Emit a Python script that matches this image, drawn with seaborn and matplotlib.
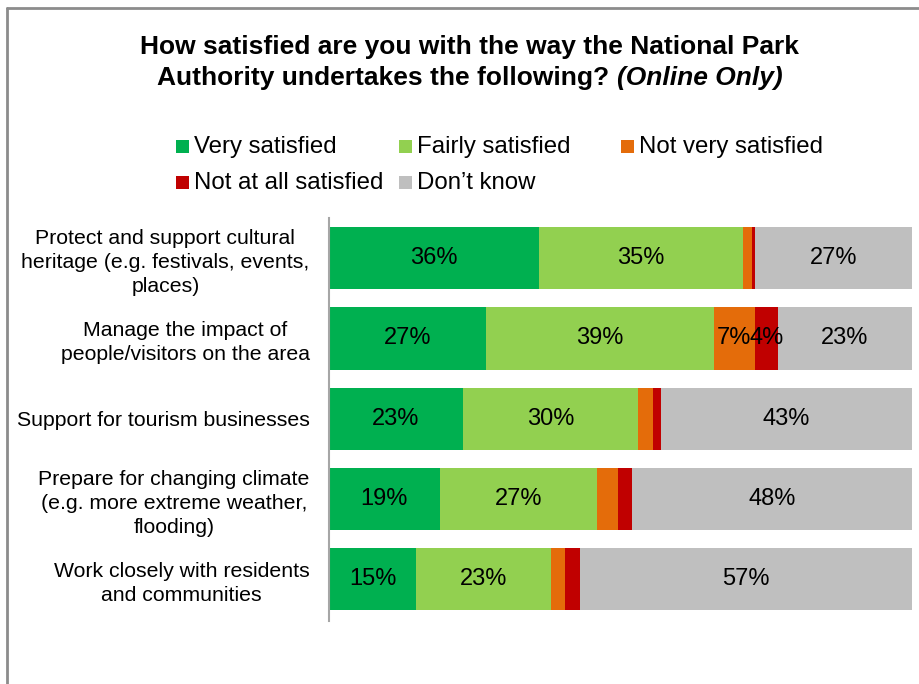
import matplotlib
matplotlib.use("Agg")
import matplotlib.pyplot as plt
from matplotlib.lines import Line2D
from matplotlib.patches import Rectangle
import pandas as pd
import seaborn as sns

# Survey statements (top to bottom) and response shares in percent
statements = [
    "Protect and support cultural\nheritage (e.g. festivals, events,\nplaces)",
    "Manage the impact of\npeople/visitors on the area",
    "Support for tourism businesses",
    "Prepare for changing climate\n(e.g. more extreme weather,\nflooding)",
    "Work closely with residents\nand communities",
]
responses = ["Very satisfied", "Fairly satisfied", "Not very satisfied",
             "Not at all satisfied", "Don\u2019t know"]
very_satisfied = [36, 27, 23, 19, 15]
fairly_satisfied = [35, 39, 30, 27, 23]
not_very_satisfied = [1.5, 7, 2.5, 3.5, 2.5]
not_at_all_satisfied = [0.5, 4, 1.5, 2.5, 2.5]
dont_know = [27, 23, 43, 48, 57]
colors = ["#00B050", "#92D050", "#E46C0A", "#C00000", "#BFBFBF"]

sns.set_theme(style="white")
plt.rcParams["font.family"] = ["Liberation Sans", "DejaVu Sans"]
plt.rcParams["text.color"] = "black"
plt.rcParams["ytick.color"] = "black"

df = pd.DataFrame(
    {r: v for r, v in zip(responses, [very_satisfied, fairly_satisfied,
                                        not_very_satisfied, not_at_all_satisfied,
                                        dont_know])},
    index=statements,
)
cum = df.cumsum(axis=1)

W, H = 920, 684
fig = plt.figure(figsize=(W / 100, H / 100), dpi=100)
ax = fig.add_axes([329 / W, 1 - 621 / H, (912 - 329) / W, (621 - 218) / H])

# Stacked bars: draw cumulative totals from the outermost segment inwards
for col, color in reversed(list(zip(responses, colors))):
    sns.barplot(x=cum[col].values, y=statements, color=color, orient="h",
                width=0.775, ax=ax, saturation=1, linewidth=0)

# Value labels for the readable segments
for i, st in enumerate(statements):
    for col in responses:
        v = df.loc[st, col]
        if v >= 4:
            centre = cum.loc[st, col] - v / 2
            ax.text(centre, i, f"{v:.0f}%", ha="center", va="center",
                    fontsize=17, color="black")

ax.set_xlim(0, 100)
ax.set_ylim(len(statements) - 0.5 + 0.02, -0.5)
ax.set_xticks([])
ax.set_xlabel("")
ax.set_ylabel("")
ax.set_yticks(range(len(statements)))
ax.set_yticklabels(statements, fontsize=15.3)
for lbl in ax.get_yticklabels():
    lbl.set_multialignment("center")
    lbl.set_linespacing(1.32)
ax.tick_params(axis="y", length=0, pad=14)
for side in ["top", "right", "bottom"]:
    ax.spines[side].set_visible(False)
ax.spines["left"].set_color("#A6A6A6")
ax.spines["left"].set_linewidth(1.5)

# Outer chart frame (left and top edges)
fig.add_artist(Line2D([7 / W, 7 / W], [0, 1 - 8 / H], color="#8C8C8C", lw=2,
                      transform=fig.transFigure))
fig.add_artist(Line2D([7 / W, 1], [1 - 8 / H, 1 - 8 / H], color="#8C8C8C", lw=2,
                      transform=fig.transFigure))

# Title: first line, then a bold part followed by a bold italic part
fig.text(470 / W, 1 - 47 / H, "How satisfied are you with the way the National Park",
         ha="center", va="center", fontsize=19, fontweight="bold")
renderer = fig.canvas.get_renderer()
part_a = fig.text(0, 1 - 78 / H, "Authority undertakes the following? ",
                  ha="left", va="center", fontsize=19, fontweight="bold")
part_b = fig.text(0, 1 - 78 / H, "(Online Only)", ha="left", va="center",
                  fontsize=19, fontweight="bold", style="italic")
wa = part_a.get_window_extent(renderer).width
wb = part_b.get_window_extent(renderer).width
x0 = 470 - (wa + wb) / 2
part_a.set_x(x0 / W)
part_b.set_x((x0 + wa) / W)

# Legend in fixed-width columns, three entries on the first row
col_x = [176, 399, 621]
baseline_y = [153, 189]
sq = 13
for k, (name, color) in enumerate(zip(responses, colors)):
    cx = col_x[k % 3]
    by = baseline_y[k // 3]
    fig.add_artist(Rectangle((cx / W, 1 - by / H), sq / W, sq / H,
                             facecolor=color, edgecolor="none",
                             transform=fig.transFigure))
    fig.text((cx + 18) / W, 1 - by / H, name, ha="left", va="baseline",
             fontsize=17.3)

fig.savefig("out.png", dpi=100)
